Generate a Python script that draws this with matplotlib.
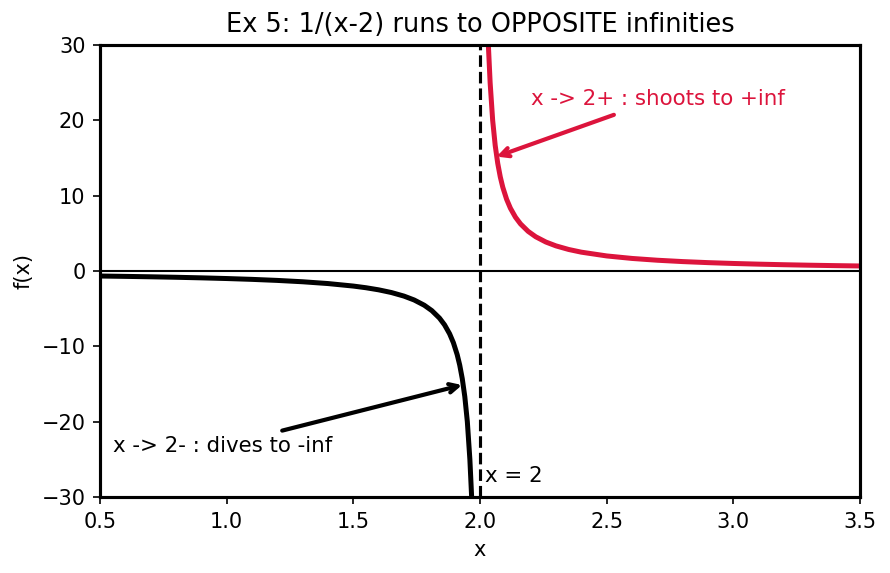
import numpy as np
import matplotlib
matplotlib.use('Agg')
import matplotlib.pyplot as plt

#----- Values -----#

left_x	= [0.5, 0.6, 0.7, 0.8, 0.9, 1.0, 1.1, 1.2, 1.3, 1.4, 1.5, 1.55, 1.6, 1.65, 1.7,
	   1.74, 1.78, 1.81, 1.84, 1.86, 1.88, 1.895, 1.91, 1.92, 1.93, 1.94, 1.95, 1.96, 1.967]
left_y	= [-0.667, -0.714, -0.769, -0.833, -0.909, -1.0, -1.111, -1.25, -1.429, -1.667, -2.0,
	   -2.222, -2.5, -2.857, -3.333, -3.846, -4.545, -5.263, -6.25, -7.143, -8.333, -9.524,
	   -11.11, -12.5, -14.29, -16.67, -20.0, -25.0, -30.0]

right_x	= [2.033, 2.04, 2.05, 2.06, 2.07, 2.08, 2.09, 2.105, 2.12, 2.14, 2.16, 2.19, 2.22,
	   2.26, 2.3, 2.35, 2.4, 2.5, 2.6, 2.7, 2.8, 2.9, 3.0, 3.1, 3.2, 3.3, 3.4, 3.5]
right_y	= [30.0, 25.0, 20.0, 16.67, 14.29, 12.5, 11.11, 9.524, 8.333, 7.143, 6.25, 5.263,
	   4.545, 3.846, 3.333, 2.857, 2.5, 2.0, 1.667, 1.429, 1.25, 1.111, 1.0, 0.909, 0.833,
	   0.769, 0.714, 0.667]

asymptote	= 2.0
xlim		= (0.5, 3.5)
ylim		= (-30, 30)

#----- Plot -----#

fig = plt.figure(figsize=(890/150, 573/150), dpi=150)
ax = fig.add_axes([100/890, 1-497/573, 760/890, 452/573])

ax.plot(left_x, left_y, color='black', lw=2.4)
ax.plot(right_x, right_y, color='crimson', lw=2.4)

ax.axvline(asymptote, color='black', ls='--', lw=1.5)
ax.axhline(0, color='black', lw=1)

ax.text(2.02, -28, 'x = 2', fontsize=10.25)

ax.annotate('x -> 2+ : shoots to +inf', xy=(2.05, 15), xytext=(2.2, 22),
		color='crimson', fontsize=10.25,
		arrowprops=dict(arrowstyle='->', color='crimson', lw=2))
ax.annotate('x -> 2- : dives to -inf', xy=(1.945, -15), xytext=(0.55, -24),
		color='black', fontsize=10.25,
		arrowprops=dict(arrowstyle='->', color='black', lw=2))

ax.set_xlim(*xlim)
ax.set_ylim(*ylim)
ax.set_xlabel('x')
ax.set_ylabel('f(x)')
ax.set_title('Ex 5: 1/(x-2) runs to OPPOSITE infinities', fontsize=12.3)

for spine in ax.spines.values():
	spine.set_linewidth(1.5)

fig.savefig('out.png', dpi=150)
